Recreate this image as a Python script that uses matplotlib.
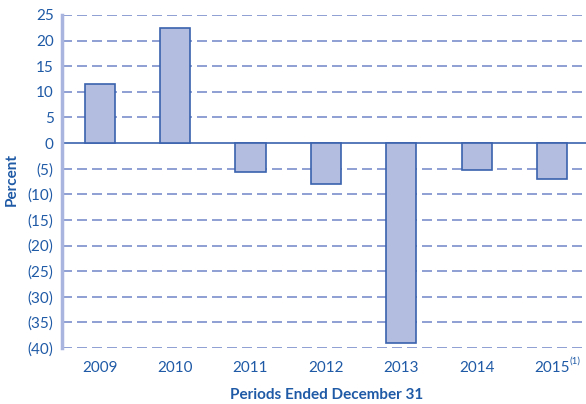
import matplotlib
matplotlib.use("Agg")
import matplotlib.pyplot as plt

years = ["2009", "2010", "2011", "2012", "2013", "2014", "2015"]
values = [11.5, 22.5, -5.7, -8.0, -39.1, -5.3, -7.0]
yticks = list(range(-40, 30, 5))

txt = "#1f5aa6"
plt.rcParams['font.family'] = ['Lato', 'DejaVu Sans']

fig = plt.figure(figsize=(5.86, 4.04), dpi=100)
ax = fig.add_axes([62/586, 1-348/404, 1.0-62/586, (348-15)/404])

x = list(range(len(years)))
ax.bar(x, values, width=0.4, color="#b3bde0", edgecolor="#3a62ad", linewidth=1.2, zorder=3)

for t in yticks:
    if t == 0:
        ax.axhline(0, color="#3a62ad", linewidth=1.2, zorder=2)
    else:
        ax.axhline(t, color="#7b8fcc", linewidth=1.2, linestyle=(0, (6, 3)), zorder=1)

ax.set_xlim(-0.5, 6.45)
ax.set_ylim(-40, 25)
ax.set_yticks(yticks)
ax.set_yticklabels([str(t) if t >= 0 else f"({-t})" for t in yticks], color=txt, fontsize=11)
ax.set_xticks(x)
ax.set_xticklabels(years, color=txt, fontsize=11)
ax.tick_params(length=0, pad=6)
ax.tick_params(axis='x', pad=9)
for s in ["top", "right", "bottom"]:
    ax.spines[s].set_visible(False)
ax.spines["left"].set_color("#a9b5de")
ax.spines["left"].set_linewidth(2.5)

ax.text(6 + 0.23, -42.6, "(1)", color=txt, fontsize=7, ha="left", va="center")

fig.text(12/586, 1-180/404, "Percent", rotation=90, color=txt, fontsize=11, fontweight="bold", ha="center", va="center")
fig.text(327/586, 1-395/404, "Periods Ended December 31", color=txt, fontsize=11, fontweight="bold", ha="center", va="center")

fig.savefig("out.png", dpi=100)
